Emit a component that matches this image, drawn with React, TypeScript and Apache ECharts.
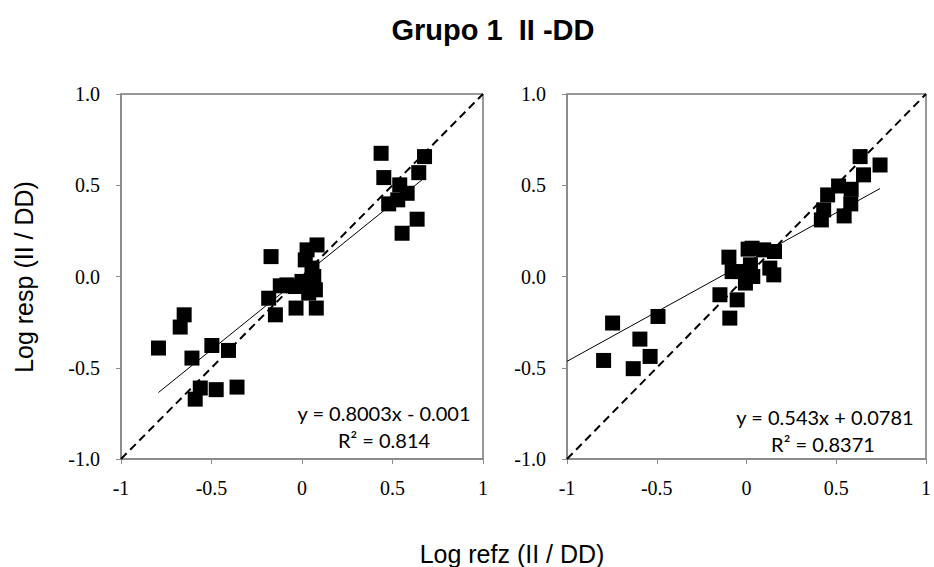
import React, { useEffect, useRef } from "react";
import * as echarts from "echarts";

const titleText = "Grupo 1  II -DD";
const xAxisTitle = "Log refz (II / DD)";
const yAxisTitle = "Log resp (II / DD)";
const xTicks = [-1, -0.5, 0, 0.5, 1];
const yTicks = [-1.0, -0.5, 0.0, 0.5, 1.0];

// Panel 1 points [x, y]
const panel1X = [
  -0.793, -0.673, -0.651, -0.608, -0.498, -0.406, -0.562, -0.59, -0.474, -0.359,
  -0.171, -0.184, -0.147, -0.12, -0.083, -0.037, -0.033, 0.0, 0.028, 0.018,
  0.055, 0.065, 0.074, 0.079, 0.083, 0.037, 0.437, 0.452, 0.54, 0.529,
  0.479, 0.581, 0.636, 0.553, 0.645, 0.677,
];
const panel1Y = [
  -0.392, -0.277, -0.21, -0.447, -0.378, -0.405, -0.611, -0.672, -0.62, -0.606,
  0.109, -0.119, -0.21, -0.051, -0.046, -0.055, -0.173, -0.027, 0.146, 0.091,
  0.046, 0.0, -0.073, -0.173, 0.173, -0.091, 0.675, 0.542, 0.502, 0.42,
  0.398, 0.456, 0.314, 0.237, 0.569, 0.657,
];

// Panel 2 points
const panel2X = [
  -0.796, -0.746, -0.631, -0.594, -0.537, -0.493, -0.148, -0.093, -0.098, -0.08,
  -0.052, -0.006, 0.009, 0.031, 0.022, 0.035, -0.033, 0.096, 0.13, 0.152,
  0.156, 0.417, 0.43, 0.452, 0.513, 0.583, 0.581, 0.544, 0.652, 0.633, 0.744,
];
const panel2Y = [
  -0.46, -0.255, -0.505, -0.343, -0.438, -0.219, -0.1, -0.228, 0.106, 0.027,
  -0.128, -0.036, 0.15, 0.155, 0.064, 0.0, 0.027, 0.146, 0.046, 0.009,
  0.137, 0.31, 0.365, 0.447, 0.496, 0.478, 0.398, 0.332, 0.557, 0.657, 0.611,
];

// Trendlines: slope, intercept, x-range
const trend1 = { slope: 0.8003, intercept: -0.001, xFrom: -0.793, xTo: 0.677 };
const trend2 = { slope: 0.543, intercept: 0.0781, xFrom: -1.0, xTo: 0.744 };
const eq1Lines = ["y = 0.8003x - 0.001", "R² = 0.814"];
const eq2Lines = ["y = 0.543x + 0.0781", "R² = 0.8371"];

const zip = (xs: number[], ys: number[]) => xs.map((x, i) => [x, ys[i]]);
const trendData = (t: { slope: number; intercept: number; xFrom: number; xTo: number }) => [
  [t.xFrom, t.slope * t.xFrom + t.intercept],
  [t.xTo, t.slope * t.xTo + t.intercept],
];

export default function App() {
  const ref = useRef<HTMLDivElement>(null);
  useEffect(() => {
    if (!ref.current) return;
    const chart = echarts.init(ref.current, undefined, { renderer: "svg" });
    const serif = "'Liberation Serif', 'Times New Roman', serif";
    const sans = "'Liberation Sans', Arial, sans-serif";
    const mkX = (gi: number) => ({
      type: "value",
      gridIndex: gi,
      min: xTicks[0],
      max: xTicks[xTicks.length - 1],
      interval: 0.5,
      splitLine: { show: false },
      axisLine: { show: true, onZero: false, lineStyle: { color: "#8c8c8c", width: 2 } },
      axisTick: { show: true, length: 5, lineStyle: { color: "#8c8c8c", width: 1 } },
      axisLabel: {
        margin: 19,
        color: "#000",
        fontFamily: serif,
        fontSize: 20,
        showMinLabel: true,
        showMaxLabel: true,
        formatter: (v: number) => String(v),
      },
    });
    const mkY = (gi: number) => ({
      type: "value",
      gridIndex: gi,
      min: yTicks[0],
      max: yTicks[yTicks.length - 1],
      interval: 0.5,
      splitLine: { show: false },
      axisLine: { show: true, onZero: false, lineStyle: { color: "#8c8c8c", width: 2 } },
      axisTick: { show: true, length: 5, lineStyle: { color: "#8c8c8c", width: 1 } },
      axisLabel: {
        margin: 21,
        color: "#000",
        fontFamily: serif,
        fontSize: 20,
        showMinLabel: true,
        showMaxLabel: true,
        formatter: (v: number) => v.toFixed(1),
      },
    });
    const diag = [
      [-1, -1],
      [1, 1],
    ];
    const scatterStyle = {
      type: "scatter",
      symbol: "rect",
      symbolSize: 15,
      itemStyle: { color: "#000", opacity: 1 },
      silent: true,
    };
    const dashStyle = {
      type: "line",
      symbol: "none",
      lineStyle: { color: "#000", width: 2, type: [8, 5] },
      silent: true,
    };
    const trendStyle = {
      type: "line",
      symbol: "none",
      lineStyle: { color: "#000", width: 1 },
      silent: true,
    };
    const annFont = "Lato, 'Open Sans', sans-serif";
    const ann = (text: string, x: number, y: number) => ({
      type: "text",
      x,
      y,
      style: { text, fontFamily: annFont, fontSize: 20, fill: "#000", textAlign: "center", textVerticalAlign: "middle" },
    });
    chart.setOption({
      animation: false,
      backgroundColor: "#fff",
      grid: [
        { left: 121, top: 94, width: 362, height: 365, show: true, borderColor: "#333", borderWidth: 1, containLabel: false },
        { left: 567, top: 94, width: 361, height: 365, show: true, borderColor: "#333", borderWidth: 1, containLabel: false },
      ],
      xAxis: [mkX(0), mkX(1)],
      yAxis: [mkY(0), mkY(1)],
      series: [
        { ...dashStyle, xAxisIndex: 0, yAxisIndex: 0, data: diag, z: 2 },
        { ...trendStyle, xAxisIndex: 0, yAxisIndex: 0, data: trendData(trend1), z: 2 },
        { ...scatterStyle, xAxisIndex: 0, yAxisIndex: 0, data: zip(panel1X, panel1Y), z: 3 },
        { ...dashStyle, xAxisIndex: 1, yAxisIndex: 1, data: diag, z: 2 },
        { ...trendStyle, xAxisIndex: 1, yAxisIndex: 1, data: trendData(trend2), z: 2 },
        { ...scatterStyle, xAxisIndex: 1, yAxisIndex: 1, data: zip(panel2X, panel2Y), z: 3 },
      ],
      graphic: [
        {
          type: "text",
          x: 493,
          y: 30,
          style: { text: titleText, fontFamily: sans, fontWeight: "bold", fontSize: 29, fill: "#000", textAlign: "center", textVerticalAlign: "middle" },
        },
        {
          type: "text",
          x: 512,
          y: 554,
          style: { text: xAxisTitle, fontFamily: sans, fontSize: 25, fill: "#000", textAlign: "center", textVerticalAlign: "middle" },
        },
        {
          type: "text",
          x: 24,
          y: 277,
          rotation: Math.PI / 2,
          style: { text: yAxisTitle, fontFamily: sans, fontSize: 25, fill: "#000", textAlign: "center", textVerticalAlign: "middle" },
        },
        ann(eq1Lines[0], 384, 413),
        ann(eq1Lines[1], 384, 440),
        ann(eq2Lines[0], 825, 417),
        ann(eq2Lines[1], 823, 444),
      ],
    });
    return () => chart.dispose();
  }, []);
  return (
    <div
      ref={ref}
      style={{ position: "absolute", left: 0, top: 0, width: 934, height: 567, background: "#fff" }}
    />
  );
}
